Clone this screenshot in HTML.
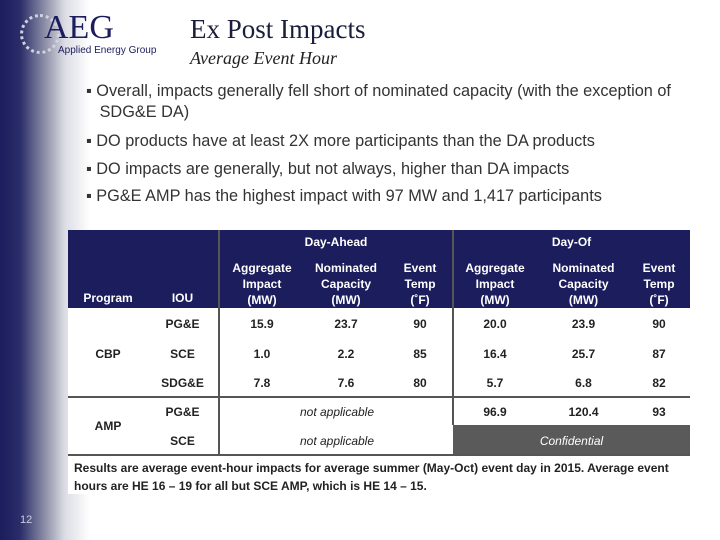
<!DOCTYPE html>
<html><head><meta charset="utf-8"><style>
body{margin:0;width:720px;height:540px;overflow:hidden;position:relative;font-family:"Liberation Sans",sans-serif;background:linear-gradient(90deg,#1b1d5c 0px,#2a2d68 20px,#8d8fa8 45px,#dcdde4 65px,#fff 90px,#fff 720px);}
.a{position:absolute}
.t{position:absolute;font-size:12px;color:#222;text-align:center;font-weight:bold}
.h{position:absolute;font-size:12px;color:#fff;text-align:center;line-height:16px;font-weight:bold}
.b{position:absolute;font-size:16.3px;color:#333;left:86px;line-height:22px;white-space:nowrap}
</style></head><body>
<div class="a" style="left:20px;top:8px;width:150px;height:50px">
 <div class="a" style="left:0;top:6px;width:34px;height:34px;border-radius:50%;border:3px dotted #d0d2e0"></div>
 <div class="a" style="left:24px;top:2px;font-family:'Liberation Serif',serif;font-size:34px;color:#1b1d5c;line-height:36px">AEG</div>
 <div class="a" style="left:38px;top:37px;font-size:10px;color:#1b1d5c">Applied Energy Group</div>
</div>
<div class="a" style="left:190px;top:14px;font-family:'Liberation Serif',serif;font-size:27px;color:#1b1d3c">Ex Post Impacts</div>
<div class="a" style="left:190px;top:48px;font-family:'Liberation Serif',serif;font-style:italic;font-size:18px;color:#222">Average Event Hour</div>
<div class="b" style="top:81px;line-height:21px">▪ Overall, impacts generally fell short of nominated capacity (with the exception of<br>&nbsp;&nbsp;&nbsp;SDG&amp;E DA)</div>
<div class="b" style="top:130px">▪ DO products have at least 2X more participants than the DA products</div>
<div class="b" style="top:158px">▪ DO impacts are generally, but not always, higher than DA impacts</div>
<div class="b" style="top:185px">▪ PG&amp;E AMP has the highest impact with 97 MW and 1,417 participants</div>

<div class="a" style="left:68px;top:230px;width:622px;height:264px;background:#fff">
 <div class="a" style="left:0;top:0;width:622px;height:78px;background:#1b1d5c"></div>
 <div class="a" style="left:385px;top:195px;width:237px;height:30px;background:#5a5a5a"></div>
 <div class="a" style="left:150px;top:0;width:2px;height:225px;background:#555"></div>
 <div class="a" style="left:384px;top:0;width:2px;height:195px;background:#555"></div>
 <div class="a" style="left:0;top:166px;width:622px;height:2px;background:#555"></div>
 <div class="a" style="left:0;top:224px;width:622px;height:2px;background:#555"></div>
</div>
<div class="h" style="left:220px;top:234px;width:232px">Day-Ahead</div>
<div class="h" style="left:453px;top:234px;width:237px">Day-Of</div>
<div class="h" style="left:68px;top:290px;width:80px">Program</div>
<div class="h" style="left:150px;top:290px;width:65px">IOU</div>
<div class="h" style="left:222px;top:260px;width:80px">Aggregate<br>Impact<br>(MW)</div>
<div class="h" style="left:305px;top:260px;width:82px">Nominated<br>Capacity<br>(MW)</div>
<div class="h" style="left:390px;top:260px;width:60px">Event<br>Temp<br>(˚F)</div>
<div class="h" style="left:455px;top:260px;width:80px">Aggregate<br>Impact<br>(MW)</div>
<div class="h" style="left:540px;top:260px;width:87px">Nominated<br>Capacity<br>(MW)</div>
<div class="h" style="left:630px;top:260px;width:58px">Event<br>Temp<br>(˚F)</div>

<div class="t" style="left:80px;top:347px;width:56px">CBP</div>
<div class="t" style="left:80px;top:419px;width:56px">AMP</div>
<div class="t" style="left:150px;top:317px;width:65px">PG&amp;E</div>
<div class="t" style="left:150px;top:347px;width:65px">SCE</div>
<div class="t" style="left:150px;top:376px;width:65px">SDG&amp;E</div>
<div class="t" style="left:150px;top:405px;width:65px">PG&amp;E</div>
<div class="t" style="left:150px;top:434px;width:65px">SCE</div>

<div class="t" style="left:222px;top:317px;width:80px">15.9</div>
<div class="t" style="left:305px;top:317px;width:82px">23.7</div>
<div class="t" style="left:390px;top:317px;width:60px">90</div>
<div class="t" style="left:455px;top:317px;width:80px">20.0</div>
<div class="t" style="left:540px;top:317px;width:87px">23.9</div>
<div class="t" style="left:630px;top:317px;width:58px">90</div>

<div class="t" style="left:222px;top:347px;width:80px">1.0</div>
<div class="t" style="left:305px;top:347px;width:82px">2.2</div>
<div class="t" style="left:390px;top:347px;width:60px">85</div>
<div class="t" style="left:455px;top:347px;width:80px">16.4</div>
<div class="t" style="left:540px;top:347px;width:87px">25.7</div>
<div class="t" style="left:630px;top:347px;width:58px">87</div>

<div class="t" style="left:222px;top:376px;width:80px">7.8</div>
<div class="t" style="left:305px;top:376px;width:82px">7.6</div>
<div class="t" style="left:390px;top:376px;width:60px">80</div>
<div class="t" style="left:455px;top:376px;width:80px">5.7</div>
<div class="t" style="left:540px;top:376px;width:87px">6.8</div>
<div class="t" style="left:630px;top:376px;width:58px">82</div>

<div class="t" style="left:222px;top:405px;width:230px;font-style:italic;font-weight:normal">not applicable</div>
<div class="t" style="left:455px;top:405px;width:80px">96.9</div>
<div class="t" style="left:540px;top:405px;width:87px">120.4</div>
<div class="t" style="left:630px;top:405px;width:58px">93</div>
<div class="t" style="left:222px;top:434px;width:230px;font-style:italic;font-weight:normal">not applicable</div>
<div class="t" style="left:453px;top:434px;width:237px;color:#fff;font-style:italic;font-weight:normal">Confidential</div>

<div class="a" style="left:74px;top:459px;width:616px;font-size:12px;font-weight:bold;line-height:18px;color:#222">Results are average event-hour impacts for average summer (May-Oct) event day in 2015. Average event<br>hours are HE 16 – 19 for all but SCE AMP, which is HE 14 – 15.</div>
<div class="a" style="left:20px;top:514px;font-size:11px;color:#ccd">12</div>
</body></html>
